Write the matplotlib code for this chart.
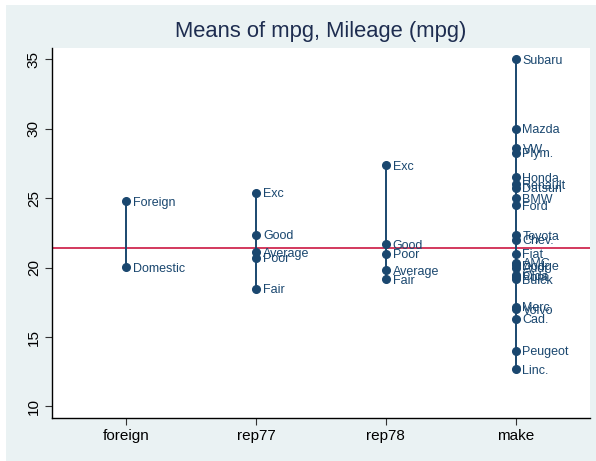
import matplotlib.pyplot as plt
from matplotlib.patches import Rectangle

plt.rcParams['font.family'] = ['Liberation Sans', 'DejaVu Sans']

# groups on the x axis
groups = ['foreign', 'rep77', 'rep78', 'make']

# means of mpg within each group
foreign_lab = ['Foreign', 'Domestic']
foreign_val = [24.77, 20.03]

rep77_lab = ['Exc', 'Good', 'Average', 'Poor', 'Fair']
rep77_val = [25.4, 22.36, 21.1, 20.7, 18.47]

rep78_lab = ['Exc', 'Good', 'Poor', 'Average', 'Fair']
rep78_val = [27.36, 21.68, 21.0, 19.79, 19.14]

make_lab = ['Subaru', 'Mazda', 'VW', 'Plym.', 'Honda', 'Renault', 'Datsun',
            'BMW', 'Ford', 'Toyota', 'Chev.', 'Fiat', 'AMC', 'Dodge', 'Audi',
            'Olds', 'Pont.', 'Buick', 'Merc.', 'Volvo', 'Cad.', 'Peugeot', 'Linc.']
make_val = [35.0, 30.0, 28.6, 28.27, 26.5, 26.0, 25.75,
            25.0, 24.5, 22.33, 22.0, 21.0, 20.33, 20.15, 20.0,
            19.43, 19.33, 19.14, 17.17, 17.0, 16.33, 14.0, 12.67]

overall_mean = 21.4

navy = '#1a476f'
bg = '#eaf2f3'

fig = plt.figure(figsize=(5.96, 4.61), dpi=100)
fig.patch.set_facecolor('white')
fig.patches.append(Rectangle((6 / 596, 0), 590 / 596, 456 / 461,
                             transform=fig.transFigure, facecolor=bg,
                             edgecolor='none', zorder=-10))

ax = fig.add_axes([52 / 596, 42.7 / 461, 538 / 596, 370 / 461])
ax.set_facecolor('white')

data = [(foreign_lab, foreign_val), (rep77_lab, rep77_val),
        (rep78_lab, rep78_val), (make_lab, make_val)]

ax.axhline(overall_mean, color='#d02a50', lw=1.3, zorder=1)

for i, (labs, vals) in enumerate(data):
    x = i + 1
    ax.plot([x, x], [min(vals), max(vals)], color=navy, lw=1.4, zorder=2)
    ax.plot([x] * len(vals), vals, 'o', color=navy, ms=5.5, zorder=3)
    for lab, v in zip(labs, vals):
        ax.annotate(lab, (x, v), xytext=(5, 0), textcoords='offset points',
                    va='center_baseline', ha='left', fontsize=9, color=navy)

ax.set_xlim(0.426, 4.574)
ax.set_ylim(9.15, 35.78)
ax.set_xticks(range(1, 5))
ax.set_xticklabels(groups, fontsize=11)
ax.set_yticks([10, 15, 20, 25, 30, 35])
ax.set_yticklabels(['10', '15', '20', '25', '30', '35'], fontsize=11,
                   rotation=90, va='center')

for s in ['top', 'right']:
    ax.spines[s].set_visible(False)
for s in ['left', 'bottom']:
    ax.spines[s].set_color('black')
    ax.spines[s].set_linewidth(1)
ax.tick_params(direction='out', length=5, width=0.8, color='#333333', pad=3)

fig.text(321 / 596, 1 - 32 / 461, 'Means of mpg, Mileage (mpg)',
         ha='center', va='center', fontsize=15.8, color='#1e2d50')

fig.savefig('out.png', dpi=100)
